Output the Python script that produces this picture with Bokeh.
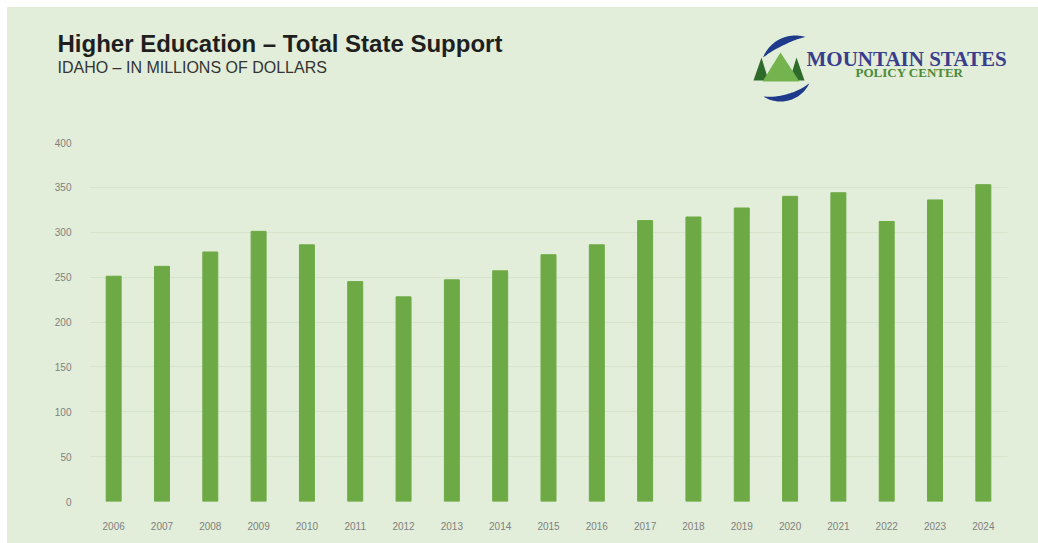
import numpy as np
from bokeh.plotting import figure
from bokeh.models import FactorRange, Range1d, FixedTicker, Label
from bokeh.embed import file_html
from bokeh.resources import INLINE

# ---- data ----
years = [str(y) for y in range(2006, 2025)]
support = [251, 262, 278, 301, 286, 245, 228, 247, 257, 275, 286,
           313, 317, 327, 340, 344, 312, 336, 353]
y_ticks = [0, 50, 100, 150, 200, 250, 300, 350, 400]

title_text = "Higher Education \u2013 Total State Support"
subtitle_text = "IDAHO \u2013 IN MILLIONS OF DOLLARS"
logo_top = "MOUNTAIN STATES"
logo_bottom = "POLICY CENTER"

BG = "#E2EED9"
BAR = "#6DAA45"
W = 1031
HEAD_H = 100
OX, OY = 7, 7          # page offset of the whole picture
FL, FR = 89, 1007      # page x of the chart frame
TXT_DY = -8            # baseline correction for header labels

# ---- header (title + logo); ranges in page pixels, frame = whole figure ----
h = figure(width=W, height=HEAD_H, x_range=Range1d(OX, OX + W), y_range=Range1d(OY + HEAD_H, OY),
           output_backend="svg", toolbar_location=None,
           min_border_left=0, min_border_right=0, min_border_top=0, min_border_bottom=0)
h.axis.visible = False
h.grid.visible = False
h.background_fill_alpha = 0
h.border_fill_alpha = 0
h.outline_line_color = None
h.margin = (OY, 0, 0, OX)
h.styles = {"background-color": BG}

h.add_layout(Label(x=57, y=51 + TXT_DY, text=title_text,
                   text_font="Liberation Sans", text_font_style="bold", text_font_size="24px",
                   text_color="#1F1F1F", text_baseline="alphabetic"))
h.add_layout(Label(x=57, y=75 + TXT_DY, text=subtitle_text,
                   text_font="Liberation Sans", text_font_size="16px",
                   text_color="#333333", text_baseline="alphabetic"))

def crescent(x0, y0, r, thick, a0, a1, n=40):
    t = np.linspace(0, 1, n)
    ang = np.radians(a0 + (a1 - a0) * t)
    w = thick * np.sin(np.pi * t) ** 0.8
    ox = x0 + r * np.cos(ang)
    oy = y0 - r * np.sin(ang)
    ix = x0 + (r - w) * np.cos(ang)
    iy = y0 - (r - w) * np.sin(ang)
    return list(np.concatenate([ox, ix[::-1]])), list(np.concatenate([oy, iy[::-1]]))

BLUE = "#1E3A8A"
sw = [crescent(795, 70, 35, 7, 74, 158), crescent(780, 69, 32, 6.5, -26, -122)]
h.patches(xs=[s[0] for s in sw], ys=[s[1] for s in sw], fill_color=BLUE, line_color=None)

tris = [([753, 768, 761], [80, 80, 57], "#2E6B2B"),
        ([789, 804, 796], [80, 80, 57], "#2E6B2B"),
        ([762, 799, 780], [81, 81, 52], "#74B34E")]
h.patches(xs=[t[0] for t in tris], ys=[t[1] for t in tris],
          fill_color=[t[2] for t in tris], line_color=None)

h.add_layout(Label(x=806, y=66 + TXT_DY, text=logo_top,
                   text_font="Liberation Serif", text_font_style="bold", text_font_size="21px",
                   text_color="#3A3C8C", text_baseline="alphabetic"))
h.add_layout(Label(x=909, y=80 + TXT_DY, text=logo_bottom,
                   text_font="Liberation Serif", text_font_style="bold", text_font_size="13px",
                   text_color="#4A8A3A", text_baseline="alphabetic", text_align="center"))

# ---- chart ----
CH = 536 - HEAD_H
p = figure(width=W, height=CH, x_range=FactorRange(factors=years, range_padding=0),
           y_range=Range1d(0, 400), output_backend="svg", toolbar_location=None,
           min_border_left=FL - OX, min_border_right=OX + W - FR,
           min_border_top=142 - OY - HEAD_H, min_border_bottom=42)
p.background_fill_alpha = 0
p.border_fill_alpha = 0
p.outline_line_color = None
p.margin = (0, 0, 0, OX)
p.styles = {"background-color": BG}

p.vbar(x=years, top=support, width=0.31, color=BAR)

p.xgrid.grid_line_color = None
p.ygrid.grid_line_color = "#D6E4CC"
p.ygrid.ticker = FixedTicker(ticks=y_ticks)
p.yaxis.ticker = FixedTicker(ticks=y_ticks)

for ax in (p.xaxis, p.yaxis):
    ax.axis_line_color = None
    ax.major_tick_line_color = None
    ax.minor_tick_line_color = None
    ax.major_label_text_font = "Liberation Sans"
    ax.major_label_text_font_size = "10px"
    ax.major_label_text_color = "#808080"
p.yaxis.major_label_standoff = 12
p.xaxis.major_label_standoff = 14

open("out.html", "w").write(file_html([h, p], INLINE))
